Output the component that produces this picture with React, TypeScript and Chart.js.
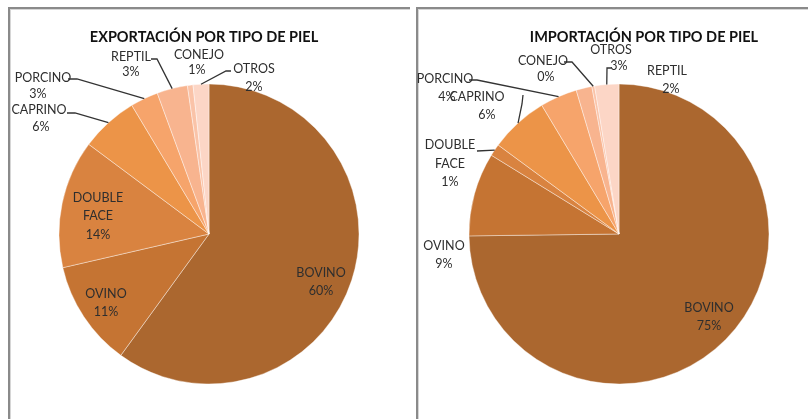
import { useEffect, useRef } from 'react';
import { Chart, registerables } from 'chart.js';

Chart.register(...registerables);

// ---- data ----
const categories = ['BOVINO', 'OVINO', 'DOUBLE FACE', 'CAPRINO', 'PORCINO', 'REPTIL', 'CONEJO', 'OTROS'];
const exportValues = [60.0, 11.4, 13.8, 6.2, 3.0, 3.3, 0.6, 1.7];
const importValues = [74.8, 9.0, 1.3, 6.3, 4.0, 1.7, 0.3, 2.6];
const sliceColors = ['#AB672F', '#C57433', '#D98340', '#EC9448', '#F6A46B', '#F8B48F', '#FAC3A8', '#FCD6C6'];
const exportTitle = 'EXPORTACIÓN POR TIPO DE PIEL';
const importTitle = 'IMPORTACIÓN POR TIPO DE PIEL';

// ---- label layout (offsets from pie centre) ----
type Place = { lines: number[][]; leader?: number[][] };

const exportPlaces: Place[] = [
  { lines: [[112, 39], [112, 57]] },
  { lines: [[-103, 60], [-103, 78]] },
  { lines: [[-111, -36], [-111, -18], [-111, 1]] },
  { lines: [[-170, -124], [-168, -107]], leader: [[-142, -121], [-134, -121]] },
  { lines: [[-166, -156], [-171, -140]], leader: [[-141, -155], [-132, -155]] },
  { lines: [[-78, -177], [-78, -162]], leader: [[-58, -175], [-52, -175]] },
  { lines: [[-10, -179], [-12, -164]] },
  { lines: [[45, -165], [45, -147]], leader: [[22, -163], [17, -163]] },
];

const importPlaces: Place[] = [
  { lines: [[90, 74], [90, 92]] },
  { lines: [[-175, 12], [-175, 30]] },
  { lines: [[-169, -89], [-169, -70], [-169, -52]], leader: [[-142, -83]] },
  { lines: [[-142, -137], [-132, -119]], leader: [[-96, -139], [-97, -130]] },
  { lines: [[-174, -155], [-172, -137]], leader: [[-150, -154], [-142, -154]] },
  { lines: [[48, -163], [52, -145]] },
  { lines: [[-76, -173], [-73, -157]], leader: [[-55, -172], [-47, -172]] },
  { lines: [[-8, -184], [0, -168]], leader: [[-8, -166], [-12, -166]] },
];

const pieLabelsPlugin = {
  id: 'pieLabels',
  afterDraw(chart: any, _args: any, opts: any) {
    const meta = chart.getDatasetMeta(0);
    if (!meta || !meta.data.length) return;
    const ds = chart.data.datasets[0];
    const labels = chart.data.labels as string[];
    const ctx = chart.ctx as CanvasRenderingContext2D;
    const cx = meta.data[0].x;
    const cy = meta.data[0].y;
    ctx.save();
    ctx.textAlign = 'center';
    ctx.textBaseline = 'alphabetic';
    ctx.fillStyle = opts.titleColor;
    ctx.font = opts.titleFont;
    ctx.fillText(opts.title, cx + opts.titlePos[0], cy + opts.titlePos[1]);
    ctx.font = opts.labelFont;
    ctx.fillStyle = opts.labelColor;
    ctx.strokeStyle = opts.lineColor;
    ctx.lineWidth = opts.lineWidth;
    meta.data.forEach((arc: any, i: number) => {
      const place: Place = opts.placements[i];
      const mid = (arc.startAngle + arc.endAngle) / 2;
      const ex = arc.x + Math.cos(mid) * arc.outerRadius;
      const ey = arc.y + Math.sin(mid) * arc.outerRadius;
      if (place.leader) {
        ctx.beginPath();
        place.leader.forEach((p, k) => {
          if (k === 0) ctx.moveTo(cx + p[0], cy + p[1]);
          else ctx.lineTo(cx + p[0], cy + p[1]);
        });
        ctx.lineTo(ex, ey);
        ctx.stroke();
      }
      const texts = [...String(labels[i]).split(' '), Math.round(ds.data[i]) + '%'];
      texts.forEach((t, k) => {
        const pos = place.lines[k];
        ctx.fillText(t, cx + pos[0], cy + pos[1] + opts.baselineShift);
      });
    });
    ctx.restore();
  },
};

type PieProps = {
  title: string;
  values: number[];
  places: Place[];
  left: number;
  width: number;
  padding: { left: number; right: number; top: number; bottom: number };
};

function PieCanvas({ title, values, places, left, width, padding }: PieProps) {
  const ref = useRef<HTMLCanvasElement>(null);
  useEffect(() => {
    if (!ref.current) return;
    const chart = new Chart(ref.current, {
      type: 'pie',
      data: {
        labels: categories,
        datasets: [
          {
            data: values,
            backgroundColor: sliceColors,
            borderColor: 'rgba(255,255,255,0.4)',
            borderWidth: 1,
            radius: 150,
          } as any,
        ],
      },
      options: {
        responsive: false,
        animation: false,
        events: [],
        layout: { padding },
        plugins: {
          legend: { display: false },
          tooltip: { enabled: false },
          title: { display: false },
          pieLabels: {
            title,
            titlePos: title === exportTitle ? [-5, -192] : [25, -192],
            titleFont: 'bold 14.5px Lato',
            titleColor: '#111111',
            labelFont: '12.5px Lato',
            labelColor: '#2e2e2e',
            lineColor: '#333333',
            lineWidth: 1.3,
            baselineShift: 4,
            placements: places,
          },
        } as any,
      },
      plugins: [pieLabelsPlugin],
    });
    return () => chart.destroy();
  }, [title, values, places, padding]);
  return (
    <canvas
      ref={ref}
      width={width}
      height={419}
      style={{ position: 'absolute', left, top: 0, width, height: 419 }}
    />
  );
}

const boxBorder = '2px solid #8a8a8a';

export default function App() {
  return (
    <div
      style={{
        position: 'fixed',
        left: 0,
        top: 0,
        width: 808,
        height: 419,
        background: '#ffffff',
        overflow: 'hidden',
      }}
    >
      <div
        style={{
          position: 'absolute',
          left: 8,
          top: 7,
          width: 402,
          height: 430,
          borderTop: boxBorder,
          borderLeft: boxBorder,
          boxSizing: 'border-box',
          boxShadow: 'inset 1px 1px 0 #d6d6d6',
        }}
      />
      <div
        style={{
          position: 'absolute',
          left: 416,
          top: 7,
          width: 400,
          height: 430,
          borderTop: boxBorder,
          borderLeft: boxBorder,
          boxSizing: 'border-box',
          boxShadow: 'inset 1px 1px 0 #d6d6d6',
        }}
      />
      <PieCanvas
        title={exportTitle}
        values={exportValues}
        places={exportPlaces}
        left={0}
        width={412}
        padding={{ left: 50, right: 44, top: 60, bottom: 11 }}
      />
      <PieCanvas
        title={importTitle}
        values={importValues}
        places={importPlaces}
        left={412}
        width={396}
        padding={{ left: 50, right: 32, top: 60, bottom: 11 }}
      />
    </div>
  );
}
